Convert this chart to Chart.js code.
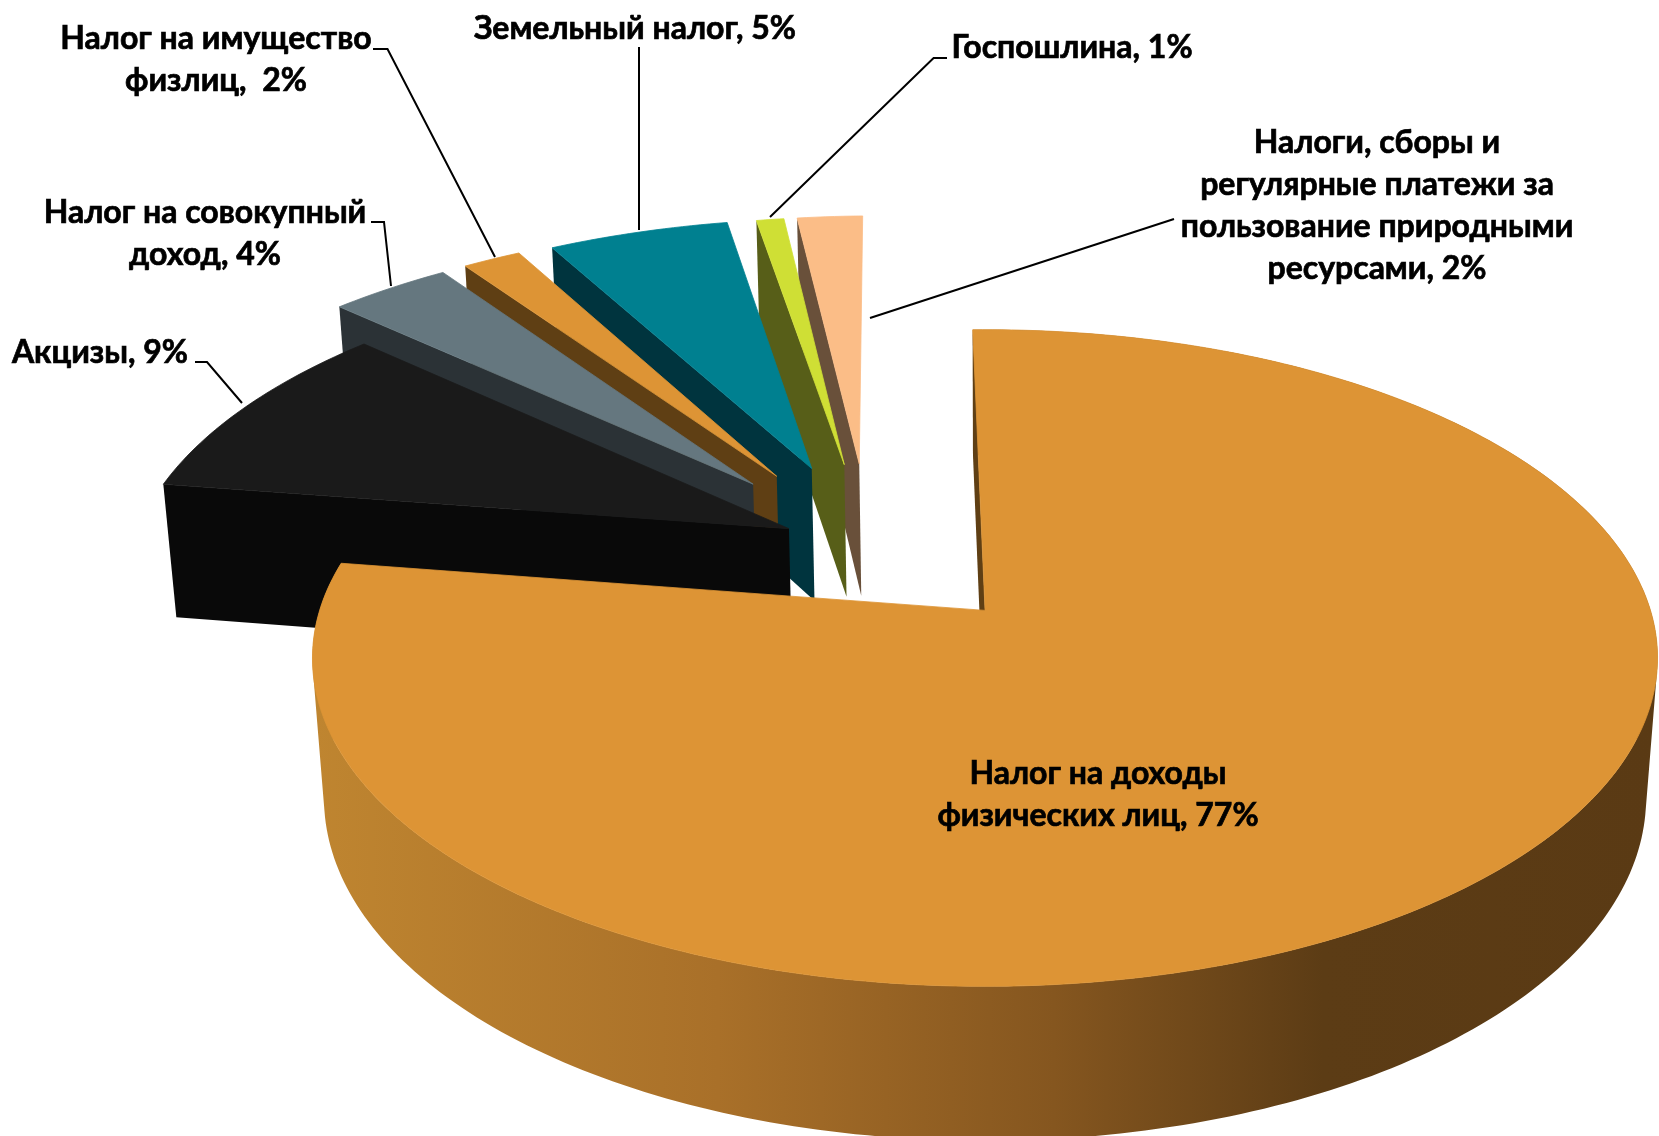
<!DOCTYPE html>
<html>
<head>
<meta charset="utf-8">
<script src="https://cdn.jsdelivr.net/npm/chart.js"></script>
<style>
  html, body { margin: 0; padding: 0; background: #fff; overflow: hidden; }
  #box { width: 1659px; height: 1136px; }
</style>
</head>
<body>
<div id="box"><canvas id="pie"></canvas></div>
<script>
const categories = [
  'Налог на доходы физических лиц', 'Акцизы', 'Налог на совокупный доход',
  'Налог на имущество физлиц', 'Земельный налог', 'Госпошлина',
  'Налоги, сборы и регулярные платежи за пользование природными ресурсами'
];
// slice sizes as measured on the picture, the printed labels are rounded
const shares = [77.74, 9.25, 3.44, 1.67, 5.2, 0.8, 1.9];
const percentLabels = ['77%', '9%', '4%', '2%', '5%', '1%', '2%'];

const topColors = ['#dd9435', '#1a1a1a', '#65777f', '#dd9435', '#008090', '#cfdf35', '#fbbd87'];
const sideColors = ['#5f3f14', '#090909', '#2b3236', '#5f3f14', '#00343e', '#575e18', '#69503a'];
const explode = [0.272, 0.14, 0.285, 0.285, 0.285, 0.285, 0.285];
const sliceRadius = [1, 1.015, 1.015, 1.015, 1.01, 1.005, 1.005];

// tilted disc, the plane is in pie radii
const view = { cx: 988, cy: 609, sx: 665, sy: 321, persp: 0.145, depth: 141, far: 0.017, baseX: -0.184, baseY: -0.2 };

function project(x, y, bottom) {
  const w = 1 - view.persp * y + (bottom ? view.far : 0);
  return [view.cx + view.sx * x / w, view.cy + (view.sy * y + (bottom ? view.depth : 0)) / w];
}

function addPoly(ctx, pts) {
  pts.forEach((p, i) => i ? ctx.lineTo(p[0], p[1]) : ctx.moveTo(p[0], p[1]));
  ctx.closePath();
}

function fillTop(ctx, pts, fill) {
  ctx.beginPath();
  addPoly(ctx, pts);
  ctx.fillStyle = fill;
  ctx.strokeStyle = fill;
  ctx.lineWidth = 0.8;
  ctx.fill();
  ctx.stroke();
}

// all quads wound the same way in one path: no seams, and no hole where the wall folds at the silhouette
function wall(ctx, edge, fill) {
  ctx.beginPath();
  for (let i = 0; i < edge.length - 1; i++) {
    const a = edge[i], b = edge[i + 1];
    const quad = [
      project(a[0], a[1], false), project(b[0], b[1], false),
      project(b[0], b[1], true), project(a[0], a[1], true)
    ];
    let area = 0;
    quad.forEach((p, k) => {
      const q = quad[(k + 1) % 4];
      area += p[0] * q[1] - q[0] * p[1];
    });
    addPoly(ctx, area < 0 ? quad.reverse() : quad);
  }
  ctx.fillStyle = fill;
  ctx.strokeStyle = fill;
  ctx.lineWidth = 0.8;
  ctx.fill();
}

const pie3d = {
  id: 'pie3d',
  beforeDatasetsDraw(chart) {
    const ctx = chart.ctx;
    const arcs = chart.getDatasetMeta(0).data;
    // back slices first, the big one goes on top
    for (let i = arcs.length - 1; i >= 0; i--) {
      const arc = arcs[i].getProps(['startAngle', 'endAngle', 'outerRadius']);
      const off = arcs[i].options.offset / arc.outerRadius;
      const mid = (arc.startAngle + arc.endAngle) / 2;
      const ox = view.baseX + off * Math.cos(mid);
      const oy = view.baseY + off * Math.sin(mid);
      const rim = [];
      const steps = Math.max(6, Math.round((arc.endAngle - arc.startAngle) * 60));
      for (let s = 0; s <= steps; s++) {
        const a = arc.startAngle + (arc.endAngle - arc.startAngle) * s / steps;
        rim.push([ox + sliceRadius[i] * Math.cos(a), oy + sliceRadius[i] * Math.sin(a)]);
      }
      // only the big slice shows its outer wall
      if (i === 0) {
        const rimFill = ctx.createLinearGradient(315, 0, 1659, 0);
        rimFill.addColorStop(0, '#bf8530');
        rimFill.addColorStop(0.3, '#a97029');
        rimFill.addColorStop(0.55, '#85561f');
        rimFill.addColorStop(0.75, '#5c3c15');
        rimFill.addColorStop(1, '#5a3a14');
        wall(ctx, rim, rimFill);
      }
      wall(ctx, [[ox, oy], rim[0]], sideColors[i]);
      fillTop(ctx, [[ox, oy]].concat(rim).map(p => project(p[0], p[1], false)), topColors[i]);
    }
    return false;
  }
};

const labelFont = 'bold 32px Lato, "Noto Sans", sans-serif';
const labelBlocks = [
  { x: 1098, y: 784, dy: 42, lines: ['Налог на доходы', 'физических лиц, ' + percentLabels[0]] },
  { x: 100, y: 363, dy: 42, lines: ['Акцизы, ' + percentLabels[1]] },
  { x: 205, y: 223, dy: 42, lines: ['Налог на совокупный', 'доход, ' + percentLabels[2]] },
  { x: 216, y: 49, dy: 42, lines: ['Налог на имущество', 'физлиц,  ' + percentLabels[3]] },
  { x: 635, y: 39, dy: 42, lines: ['Земельный налог, ' + percentLabels[4]] },
  { x: 1072, y: 58, dy: 42, lines: ['Госпошлина, ' + percentLabels[5]] },
  { x: 1377, y: 153, dy: 42, lines: ['Налоги, сборы и', 'регулярные платежи за', 'пользование природными', 'ресурсами, ' + percentLabels[6]] }
];
const leaders = [
  [[195, 362], [207, 362], [242, 403]],
  [[371, 222], [384, 222], [391, 286]],
  [[373, 49], [387.5, 49], [495, 257]],
  [[639, 47], [639, 230]],
  [[947, 58], [933.6, 58], [770, 217]],
  [[1174, 219], [870, 318]]
];

const pieLabels = {
  id: 'pieLabels',
  afterDraw(chart) {
    const ctx = chart.ctx;
    ctx.save();
    ctx.strokeStyle = '#000';
    ctx.lineWidth = 2;
    leaders.forEach(line => {
      ctx.beginPath();
      line.forEach((p, i) => i ? ctx.lineTo(p[0], p[1]) : ctx.moveTo(p[0], p[1]));
      ctx.stroke();
    });
    ctx.fillStyle = '#000';
    ctx.lineWidth = 0.7;
    ctx.font = labelFont;
    ctx.textAlign = 'center';
    ctx.textBaseline = 'alphabetic';
    labelBlocks.forEach(b => b.lines.forEach((t, i) => {
      ctx.fillText(t, b.x, b.y + i * b.dy);
      ctx.strokeText(t, b.x, b.y + i * b.dy);
    }));
    ctx.restore();
  }
};

new Chart(document.getElementById('pie'), {
  type: 'pie',
  data: {
    labels: categories,
    datasets: [{
      data: shares,
      backgroundColor: topColors,
      borderWidth: 0,
      offset: explode.map(d => d * 400)
    }]
  },
  options: {
    responsive: true,
    maintainAspectRatio: false,
    animation: false,
    rotation: -1.25,
    radius: 400,
    layout: { padding: 0 },
    plugins: { legend: { display: false }, tooltip: { enabled: false } }
  },
  plugins: [pie3d, pieLabels]
});
</script>
</body>
</html>
